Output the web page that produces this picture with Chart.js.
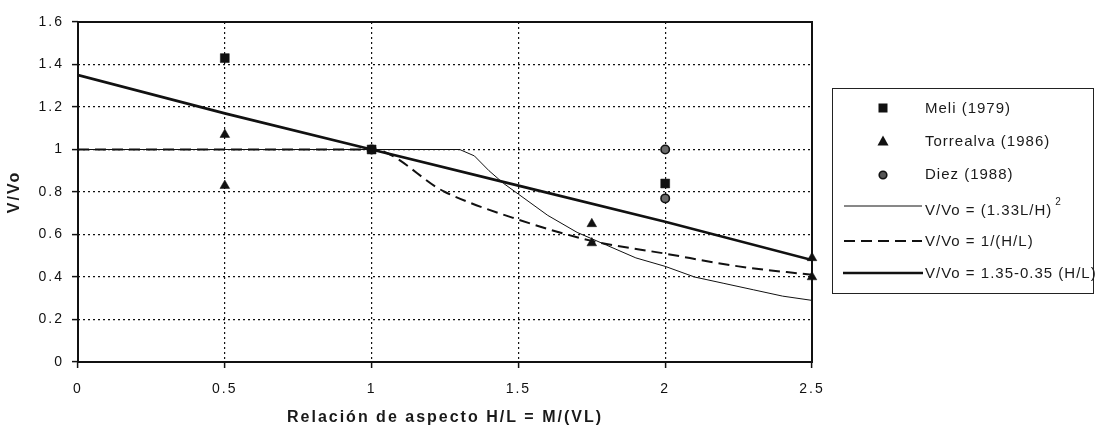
<!DOCTYPE html>
<html>
<head>
<meta charset="utf-8">
<title>V/Vo vs relación de aspecto</title>
<script src="https://cdn.jsdelivr.net/npm/chart.js@4.4.1/dist/chart.umd.min.js"></script>
<style>
  body { margin: 0; background: #fff; }
  #wrap { position: relative; width: 1100px; height: 428px; font-family: "Liberation Sans", Arial, sans-serif; color: #1a1a1a; }
  #legend { position: absolute; left: 832px; top: 88px; width: 262px; height: 206px; border: 1.5px solid #222; box-sizing: border-box; }
  .row { position: absolute; left: 0; width: 100%; height: 22px; }
  .row svg { position: absolute; left: 10px; top: 0; }
  .row span { position: absolute; left: 92px; top: 1px; font-size: 15px; line-height: 20px; letter-spacing: 1px; white-space: nowrap; }
  .row sup { font-size: 10px; position: relative; top: -4px; margin-left: 3px; }
</style>
</head>
<body>
<div id="wrap">
  <canvas id="c" width="1100" height="428"></canvas>
  <div id="legend">
    <div class="row" style="top:8px"><svg width="80" height="22"><rect x="35.5" y="6.5" width="9" height="9" fill="#111"/></svg><span>Meli (1979)</span></div>
    <div class="row" style="top:41px"><svg width="80" height="22"><polygon points="40,5.5 45.5,15.5 34.5,15.5" fill="#111"/></svg><span>Torrealva (1986)</span></div>
    <div class="row" style="top:74px"><svg width="80" height="22"><circle cx="40" cy="12" r="3.8" fill="#555" stroke="#111" stroke-width="1.6"/></svg><span>Diez (1988)</span></div>
    <div class="row" style="top:106px"><svg width="80" height="22"><line x1="1" y1="11" x2="79" y2="11" stroke="#111" stroke-width="1"/></svg><span>V/Vo = (1.33L/H)<sup>2</sup></span></div>
    <div class="row" style="top:141px"><svg width="80" height="22"><line x1="1" y1="11" x2="79" y2="11" stroke="#111" stroke-width="2" stroke-dasharray="11,6"/></svg><span>V/Vo = 1/(H/L)</span></div>
    <div class="row" style="top:173px"><svg width="80" height="22"><line x1="0" y1="11" x2="80" y2="11" stroke="#111" stroke-width="2.6"/></svg><span>V/Vo = 1.35-0.35 (H/L)</span></div>
  </div>
</div>
<script>
// Axis ticks
const xTicks = [0, 0.5, 1, 1.5, 2, 2.5];
const yTicks = [0, 0.2, 0.4, 0.6, 0.8, 1, 1.2, 1.4, 1.6];

// Experimental results
const meliX = [0.5, 1, 2];
const meliY = [1.43, 1.0, 0.84];
const torrealvaX = [0.5, 0.5, 1.75, 1.75, 2.5, 2.5];
const torrealvaY = [1.07, 0.83, 0.65, 0.56, 0.49, 0.40];
const diezX = [1, 2, 2];
const diezY = [1.0, 1.0, 0.77];

// V/Vo = (1.33L/H)^2, capped at 1
const curveAX = [0, 1.3, 1.35, 1.4, 1.45, 1.5, 1.6, 1.7, 1.8, 1.9, 2.0, 2.1, 2.2, 2.3, 2.4, 2.5];
const curveAY = [1.0, 1.0, 0.97, 0.90, 0.84, 0.79, 0.69, 0.61, 0.55, 0.49, 0.45, 0.40, 0.37, 0.34, 0.31, 0.29];
// V/Vo = 1/(H/L), capped at 1
const curveBX = [0, 1, 1.25, 1.5, 1.75, 2.0, 2.25, 2.5];
const curveBY = [1.0, 1.0, 0.80, 0.67, 0.57, 0.51, 0.45, 0.41];
// V/Vo = 1.35 - 0.35 (H/L)
const curveCX = [0, 0.5, 1, 1.5, 2, 2.5];
const curveCY = [1.35, 1.17, 1.0, 0.83, 0.66, 0.48];

const pts = (xs, ys) => xs.map((x, i) => ({ x: x, y: ys[i] }));
const INK = '#111';
const FONT = '"Liberation Sans", Arial, sans-serif';

// Solid frame around the plotting area
const frame = {
  id: 'frame',
  beforeDraw(chart) { chart.ctx.letterSpacing = '2px'; },
  beforeDatasetsDraw(chart) {
    const { ctx, chartArea: a } = chart;
    ctx.save();
    ctx.strokeStyle = INK;
    ctx.lineWidth = 2;
    ctx.setLineDash([]);
    ctx.strokeRect(a.left, a.top, a.right - a.left, a.bottom - a.top);
    ctx.restore();
  }
};

new Chart(document.getElementById('c'), {
  type: 'scatter',
  data: {
    datasets: [
      { label: 'V/Vo = (1.33L/H)^2', data: pts(curveAX, curveAY), showLine: true, borderColor: INK, borderWidth: 1, pointRadius: 0, tension: 0 },
      { label: 'V/Vo = 1/(H/L)', data: pts(curveBX, curveBY), showLine: true, borderColor: INK, borderWidth: 2, borderDash: [11, 6], pointRadius: 0, cubicInterpolationMode: 'monotone' },
      { label: 'V/Vo = 1.35-0.35 (H/L)', data: pts(curveCX, curveCY), showLine: true, borderColor: INK, borderWidth: 2.6, pointRadius: 0, tension: 0 },
      { label: 'Meli (1979)', data: pts(meliX, meliY), pointStyle: 'rect', pointRadius: 6.3, backgroundColor: INK, borderColor: INK, borderWidth: 0.5, clip: false },
      { label: 'Torrealva (1986)', data: pts(torrealvaX, torrealvaY), pointStyle: 'triangle', pointRadius: 5.6, backgroundColor: INK, borderColor: INK, borderWidth: 0.5, clip: false },
      { label: 'Diez (1988)', data: pts(diezX, diezY), pointStyle: 'circle', pointRadius: 4.2, backgroundColor: '#6a6a6a', borderColor: INK, borderWidth: 1.6, clip: false }
    ]
  },
  options: {
    responsive: false,
    animation: false,
    devicePixelRatio: 1,
    layout: { padding: { left: 0, top: 22, right: 288, bottom: 0 } },
    plugins: { legend: { display: false }, tooltip: { enabled: false } },
    scales: {
      x: {
        type: 'linear', min: 0, max: 2.5,
        afterBuildTicks(s) { s.ticks = xTicks.map(v => ({ value: v })); },
        afterFit(s) { s.height = 66; },
        ticks: { color: '#111', font: { family: FONT, size: 14 }, padding: 13, callback: v => String(v) },
        grid: { color: INK, lineWidth: 1.2, tickLength: 6, tickColor: INK, tickWidth: 1.5 },
        border: { display: false, dash: [2, 3] },
        title: { display: true, text: 'Relación de aspecto H/L = M/(VL)', color: '#1a1a1a', font: { family: FONT, size: 16, weight: 'bold' }, padding: { top: 0, bottom: 1 } }
      },
      y: {
        type: 'linear', min: 0, max: 1.6,
        afterBuildTicks(s) { s.ticks = yTicks.map(v => ({ value: v })); },
        afterFit(s) { s.width = 78; },
        ticks: { color: '#111', font: { family: FONT, size: 14 }, padding: 8, callback: v => String(v) },
        grid: { color: INK, lineWidth: 1.2, tickLength: 6, tickColor: INK, tickWidth: 1.5 },
        border: { display: false, dash: [2, 3] },
        title: { display: true, text: 'V/Vo', color: '#1a1a1a', font: { family: FONT, size: 16, weight: 'bold' }, padding: { top: 5, bottom: 0 } }
      }
    }
  },
  plugins: [frame]
});
</script>
</body>
</html>
